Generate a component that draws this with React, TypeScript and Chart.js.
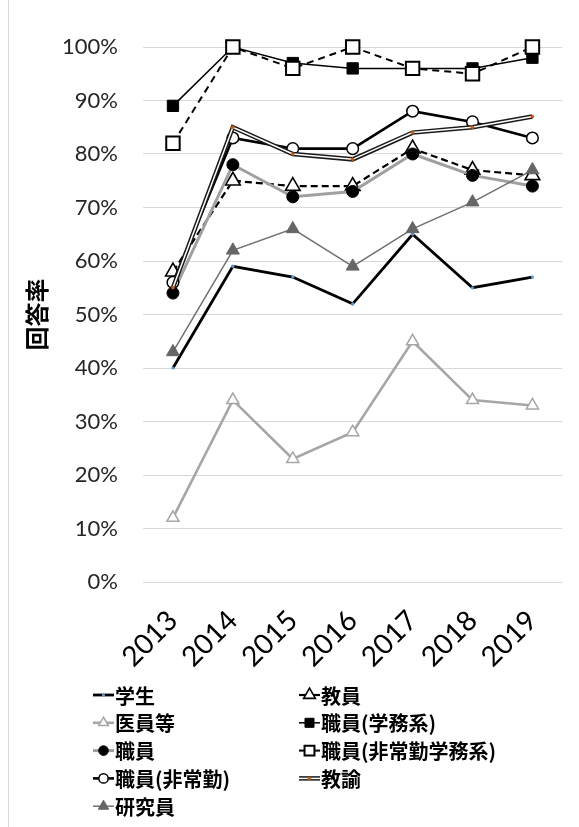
import React, { useEffect, useRef } from 'react';
import { Chart, registerables } from 'chart.js';
import { drawPoint } from 'chart.js/helpers';

Chart.register(...registerables);

// Survey years
const years = ['2013', '2014', '2015', '2016', '2017', '2018', '2019'];

// Response rate (%) per group
const gakusei = [40, 59, 57, 52, 65, 55, 57];
const kyoin = [58, 75, 74, 74, 81, 77, 76];
const iinTou = [12, 34, 23, 28, 45, 34, 33];
const shokuinGakumu = [89, 100, 97, 96, 96, 96, 98];
const shokuin = [54, 78, 72, 73, 80, 76, 74];
const shokuinHijokinGakumu = [82, 100, 96, 100, 96, 95, 100];
const shokuinHijokin = [56, 83, 81, 81, 88, 86, 83];
const kyoyu = [55, 85, 80, 79, 84, 85, 87];
const kenkyuin = [43, 62, 66, 59, 66, 71, 77];

// Axis range
const yMin = 0;
const yMax = 100;
const yStep = 10;

const JP = '"Noto Sans CJK JP", "Noto Sans", sans-serif';
const NUM = 'Lato, "Noto Sans", sans-serif';

type Style = {
  label: string;
  data: number[];
  line: string;
  lineWidth: number;
  dash?: number[];
  point: string;
  radius: number;
  fill: string;
  stroke: string;
  pointBorder: number;
  double?: boolean;
};

const series: Style[] = [
  { label: '学生', data: gakusei, line: '#000000', lineWidth: 2.8, point: 'circle', radius: 1.6, fill: '#5b9bd5', stroke: '#5b9bd5', pointBorder: 0 },
  { label: '教員', data: kyoin, line: '#000000', lineWidth: 2.2, dash: [7, 4], point: 'triangle', radius: 8.5, fill: '#ffffff', stroke: '#000000', pointBorder: 1.6 },
  { label: '医員等', data: iinTou, line: '#a6a6a6', lineWidth: 2.6, point: 'triangle', radius: 7, fill: '#ffffff', stroke: '#a6a6a6', pointBorder: 1.5 },
  { label: '職員(学務系)', data: shokuinGakumu, line: '#000000', lineWidth: 1.5, point: 'rect', radius: 8, fill: '#000000', stroke: '#000000', pointBorder: 1 },
  { label: '職員', data: shokuin, line: '#a0a0a0', lineWidth: 3, point: 'circle', radius: 6, fill: '#000000', stroke: '#000000', pointBorder: 1 },
  { label: '職員(非常勤学務系)', data: shokuinHijokinGakumu, line: '#000000', lineWidth: 2, dash: [7, 5], point: 'rect', radius: 9.5, fill: '#ffffff', stroke: '#000000', pointBorder: 2 },
  { label: '職員(非常勤)', data: shokuinHijokin, line: '#000000', lineWidth: 2.6, point: 'circle', radius: 5.8, fill: '#ffffff', stroke: '#000000', pointBorder: 1.5 },
  { label: '教諭', data: kyoyu, line: '#1a1a1a', lineWidth: 4.5, point: 'circle', radius: 1.8, fill: '#c55a11', stroke: '#c55a11', pointBorder: 0, double: true },
  { label: '研究員', data: kenkyuin, line: '#707070', lineWidth: 1.5, point: 'triangle', radius: 7.5, fill: '#666666', stroke: '#666666', pointBorder: 1 },
];

// Legend grid: two columns, filled row by row
const legendCols = [93, 299];
const legendTop = 695;
const legendGap = 27.8;

const legendPlugin = {
  id: 'gridLegend',
  beforeDraw(chart: any) {
    const ctx = chart.ctx;
    ctx.save();
    ctx.fillStyle = '#d9d9d9';
    ctx.fillRect(8, 0, 1, chart.height);
    ctx.restore();
  },
  afterDraw(chart: any) {
    const ctx = chart.ctx;
    ctx.save();
    series.forEach((s, i) => {
      const col = i % 2;
      const row = Math.floor(i / 2);
      const x0 = legendCols[col];
      const y = legendTop + row * legendGap;
      const w = 21;
      ctx.setLineDash([]);
      ctx.lineCap = 'butt';
      ctx.strokeStyle = s.line;
      ctx.lineWidth = Math.min(s.lineWidth, 3);
      if (s.double) ctx.lineWidth = 4.5;
      ctx.beginPath();
      ctx.moveTo(x0, y);
      ctx.lineTo(x0 + w, y);
      ctx.stroke();
      if (s.double) {
        ctx.strokeStyle = '#ffffff';
        ctx.lineWidth = 1.5;
        ctx.beginPath();
        ctx.moveTo(x0, y);
        ctx.lineTo(x0 + w, y);
        ctx.stroke();
      }
      ctx.fillStyle = s.fill;
      ctx.strokeStyle = s.stroke;
      ctx.lineWidth = s.pointBorder;
      const r = s.radius > 3 ? Math.min(s.radius * 0.8, 7) : s.radius;
      drawPoint(ctx, { pointStyle: s.point, radius: r, rotation: 0, borderWidth: s.pointBorder } as any, x0 + w / 2, y);
      ctx.fillStyle = '#000000';
      ctx.font = `bold 20px ${JP}`;
      ctx.textAlign = 'left';
      ctx.textBaseline = 'middle';
      ctx.fillText(s.label, x0 + w + 1, y + 1);
    });
    ctx.restore();
  },
};

export default function App() {
  const ref = useRef<HTMLCanvasElement>(null);

  useEffect(() => {
    if (!ref.current) return;
    const n = series.length;
    const datasets: any[] = [];
    series.forEach((s, i) => {
      datasets.push({
        label: s.label,
        data: s.data,
        borderColor: s.line,
        borderWidth: s.lineWidth,
        borderDash: s.dash || [],
        pointStyle: s.point,
        pointRadius: s.double ? 0 : s.radius,
        pointBackgroundColor: s.fill,
        pointBorderColor: s.stroke,
        pointBorderWidth: s.pointBorder,
        tension: 0,
        fill: false,
        clip: false,
        order: (n - i) * 2,
      });
      if (s.double) {
        // white core that turns the line into a double stroke
        datasets.push({
          label: s.label + ' core',
          data: s.data,
          borderColor: '#ffffff',
          borderWidth: 1.5,
          pointStyle: s.point,
          pointRadius: s.radius,
          pointBackgroundColor: s.fill,
          pointBorderColor: s.stroke,
          pointBorderWidth: 0,
          tension: 0,
          fill: false,
          clip: false,
          order: (n - i) * 2 - 1,
        });
      }
    });

    const chart = new Chart(ref.current, {
      type: 'line',
      data: { labels: years, datasets },
      options: {
        animation: false,
        responsive: false,
        layout: { padding: { top: 47, right: 1, left: 0, bottom: 0 } },
        plugins: { legend: { display: false }, tooltip: { enabled: false } },
        scales: {
          x: {
            type: 'category',
            offset: true,
            grid: { display: false, drawTicks: false },
            border: { display: false },
            ticks: {
              autoSkip: false,
              minRotation: 45,
              maxRotation: 45,
              padding: 22,
              color: '#000000',
              font: { family: NUM, size: 28 },
            },
            afterFit: (scale: any) => {
              scale.height = 245;
            },
          },
          y: {
            min: yMin,
            max: yMax,
            grid: { color: '#d9d9d9', lineWidth: 1, drawTicks: false },
            border: { display: false },
            ticks: {
              stepSize: yStep,
              padding: 25,
              color: '#262626',
              font: { family: NUM, size: 22 },
              callback: (v: any) => `${v}%`,
            },
            title: {
              display: true,
              text: '回答率',
              color: '#000000',
              font: { family: JP, size: 24, weight: 'bold' },
              padding: { top: 22, bottom: 0 },
            },
            afterFit: (scale: any) => {
              scale.width = 143;
            },
          },
        },
      },
      plugins: [legendPlugin],
    });
    return () => chart.destroy();
  }, []);

  return (
    <div style={{ position: 'absolute', left: 0, top: 0, width: 579, height: 827, background: '#ffffff' }}>
      <canvas ref={ref} width={579} height={827} style={{ display: 'block' }} />
    </div>
  );
}
